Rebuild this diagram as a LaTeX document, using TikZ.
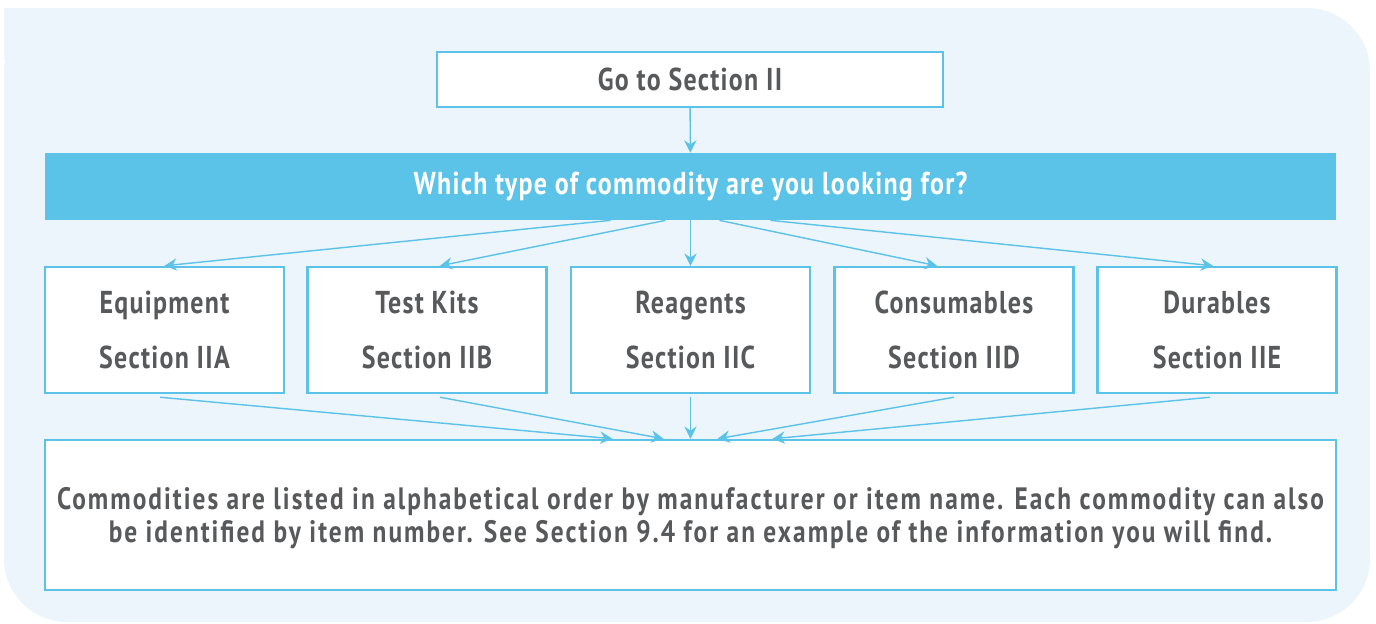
\documentclass[tikz,border=0pt]{standalone}
\usepackage{fontspec}
\setmainfont{PT Sans}[FakeStretch=0.82, LetterSpace=4]
\usetikzlibrary{positioning, arrows.meta}

\definecolor{skyline}{HTML}{5BC2E8}
\definecolor{paleback}{HTML}{EDF5FC}
\definecolor{inkgrey}{HTML}{58595B}

\begin{document}
\begin{tikzpicture}[
    x=0.02cm, y=-0.02cm,
    >={Stealth[length=7pt, width=7pt]},
    box/.style={
        draw=skyline, fill=white, line width=1.4pt, align=center,
        font=\bfseries, text=inkgrey, inner sep=2pt
    },
    startbox/.style={box, minimum width=10.12cm, minimum height=1.1cm, font=\fontsize{18}{22}\selectfont\bfseries},
    banner/.style={fill=skyline, minimum width=25.82cm, minimum height=1.34cm,
        text=white, font=\fontsize{18}{22}\selectfont\bfseries},
    typebox/.style={box, minimum width=4.78cm, minimum height=2.52cm,
        font=\fontsize{18}{31}\selectfont\bfseries},
    listbox/.style={box, minimum width=25.82cm, minimum height=3.0cm, text depth=0pt,
        font=\addfontfeatures{LetterSpace=6.5}\fontsize{17.6}{18.9}\selectfont\bfseries},
    link/.style={->, draw=skyline, line width=0.8pt},
]

% Page and backdrop (square top-left corner)
\useasboundingbox (0,0) rectangle (1376,623);
\fill[paleback, rounded corners=36] (4,8) rectangle (1370,622);
\fill[paleback] (4,8) rectangle (60,60);

% Entry point
\node[startbox] (goto) at (690,79.5) {Go to Section II};

% Question bar
\node[banner] (question) at (690.5,186.5) {Which type of commodity are you looking for?};

% Commodity types
\node[typebox] (equip)   at (164.5,330) {Equipment\\Section IIA};
\node[typebox] (kits)    at (427,330)   {Test Kits\\Section IIB};
\node[typebox] (reagent) at (690.5,330) {Reagents\\Section IIC};
\node[typebox] (consum)  at (954,330)   {Consumables\\Section IID};
\node[typebox] (durable) at (1217,330)  {Durables\\Section IIE};

% Listing note
\node[listbox] (listing) at (690.5,515) {Commodities are listed in alphabetical order by manufacturer or item name. Each commodity can also\\be identified by item number. See Section 9.4 for an example of the information you will find.};

% Arrows: entry -> question
\draw[link] (goto) -- (question);

% Question -> types
\draw[link] ([xshift=-1.6cm]question.south) -- (equip.north);
\draw[link] ([xshift=-0.5cm]question.south) -- ([xshift=0.26cm]kits.north);
\draw[link] (question.south) -- (reagent.north);
\draw[link] ([xshift=0.58cm]question.south) -- ([xshift=-0.34cm]consum.north);
\draw[link] ([xshift=1.6cm]question.south) -- ([xshift=-0.08cm]durable.north);

% Types -> listing
\draw[link] ([xshift=-0.09cm, yshift=-0.06cm]equip.south) -- ([xshift=-1.56cm]listing.north);
\draw[link] ([xshift=0.26cm, yshift=-0.06cm]kits.south) -- ([xshift=-0.54cm]listing.north);
\draw[link] ([yshift=-0.06cm]reagent.south) -- (listing.north);
\draw[link] ([yshift=-0.06cm]consum.south) -- ([xshift=0.54cm]listing.north);
\draw[link] ([xshift=-0.14cm, yshift=-0.06cm]durable.south) -- ([xshift=1.64cm]listing.north);

\end{tikzpicture}
\end{document}
